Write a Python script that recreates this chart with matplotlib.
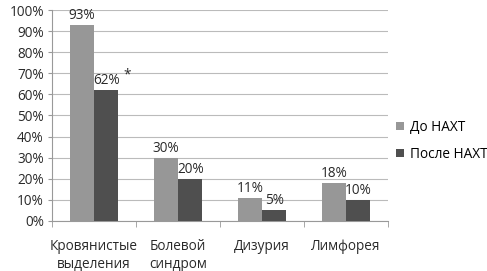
import matplotlib

matplotlib.use("Agg")
import matplotlib.pyplot as plt
import numpy as np

categories = ["Кровянистые\nвыделения", "Болевой\nсиндром", "Дизурия", "Лимфорея"]
before = [93, 30, 11, 18]
after = [62, 20, 5, 10]
series_names = ["До НАХТ", "После НАХТ"]
yticks = [0, 10, 20, 30, 40, 50, 60, 70, 80, 90, 100]

plt.rcParams["font.family"] = ["Open Sans", "DejaVu Sans"]

fig = plt.figure(figsize=(4.87, 2.71), dpi=100)
ax = fig.add_axes([0.107, 0.185, 0.690, 0.778])

x = np.arange(len(categories))
w = 0.29
c1, c2 = "#979797", "#4f4f4f"
txt = "#2a2a2a"
fs = 9.8
ax.bar(x - w / 2, before, w, color=c1, label=series_names[0], zorder=3)
ax.bar(x + w / 2, after, w, color=c2, label=series_names[1], zorder=3)

for xi, v in zip(x - w / 2, before):
    ax.text(xi, v + 1, f"{v}%", ha="center", va="bottom", fontsize=fs, color=txt)
for xi, v in zip(x + w / 2, after):
    ax.text(xi, v + 1, f"{v}%", ha="center", va="bottom", fontsize=fs, color=txt)
ax.text(x[0] + w / 2 + 0.25, after[0] + 3.5, "*", ha="center", va="bottom", fontsize=fs, color=txt)

ax.set_xlim(-0.5, len(categories) - 0.5)
ax.set_ylim(0, 100)
ax.set_yticks(yticks)
ax.set_yticklabels([f"{t}%" for t in yticks], fontsize=fs, color=txt)
ax.set_xticks(x)
ax.set_xticklabels(categories, fontsize=fs, color=txt, linespacing=1.25)
ax.tick_params(axis="x", length=0, pad=13)
ax.tick_params(axis="y", length=3, color="#999999", pad=3)
ax.set_xticks(np.arange(len(categories) + 1) - 0.5, minor=True)
ax.tick_params(axis="x", which="minor", length=4, color="#999999")

ax.grid(axis="y", color="#bbbbbb", linewidth=0.8, zorder=0)
for s in ["top", "right"]:
    ax.spines[s].set_visible(False)
ax.spines["left"].set_color("#999999")
ax.spines["bottom"].set_color("#999999")

ax.legend(loc="center left", bbox_to_anchor=(1.0, 0.38), frameon=False, fontsize=fs,
          handlelength=0.6, handleheight=0.6, handletextpad=0.4, labelspacing=0.9,
          borderaxespad=0.2)

fig.savefig("out.png", dpi=100)
